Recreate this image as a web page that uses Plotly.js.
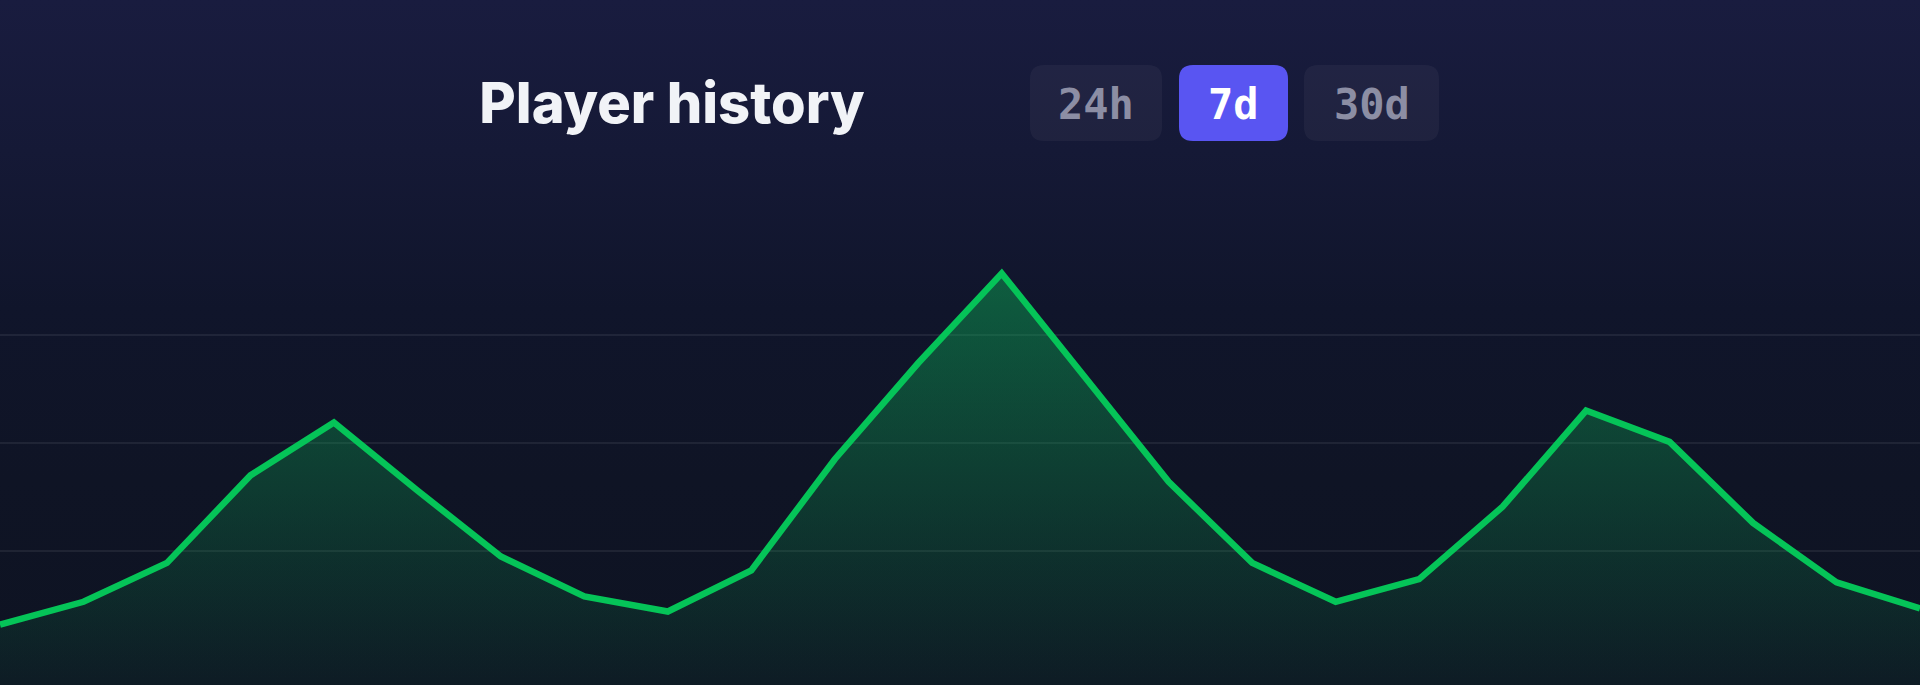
<!DOCTYPE html>
<html>
<head>
<meta charset="utf-8">
<script src="https://cdn.plot.ly/plotly-3.0.1.min.js"></script>
<style>
  html, body { margin: 0; padding: 0; overflow: hidden; }
  body {
    width: 1920px; height: 685px;
    background: linear-gradient(to bottom, #191c3f 0%, #151936 22%, #10152b 45%, #0f1425 70%, #0e1322 100%);
  }
  #myDiv { width: 1920px; height: 685px; }
</style>
</head>
<body>
<div id="myDiv"></div>
<script>
const W = 1920
const H = 685

// samples across the 7 day window
const sampleIdx = [0, 1, 2, 3, 4, 5, 6, 7, 8, 9, 10, 11, 12, 13, 14, 15, 16, 17, 18, 19, 20, 21, 22, 23]
const players = [132, 153, 189, 270, 319, 256, 195, 158, 144, 182, 285, 374, 457, 360, 264, 189, 153, 174, 241, 330, 301, 226, 171, 147]
const gridVals = [200, 300, 400]

const ranges = ["24h", "7d", "30d"]
const activeRange = "7d"

const green = "#05c458"

// pixel -> paper (margins are 0 so paper == page)
function px(x) { return x / W }
function py(y) { return 1 - y / H }

function roundRect(x0, y0, x1, y1, r) {
  const rx = r / W, ry = r / H
  const a = px(x0), b = px(x1), t = py(y0), u = py(y1)
  return "M" + (a + rx) + "," + t +
    " L" + (b - rx) + "," + t +
    " Q" + b + "," + t + " " + b + "," + (t - ry) +
    " L" + b + "," + (u + ry) +
    " Q" + b + "," + u + " " + (b - rx) + "," + u +
    " L" + (a + rx) + "," + u +
    " Q" + a + "," + u + " " + a + "," + (u + ry) +
    " L" + a + "," + (t - ry) +
    " Q" + a + "," + t + " " + (a + rx) + "," + t + " Z"
}

const btnBoxes = [[1030, 1162], [1179, 1288], [1304, 1439]]
const btnTop = 65, btnBottom = 141

let shapes = []
let annotations = []
ranges.forEach((r, i) => {
  const active = r == activeRange
  shapes.push({
    type: "path",
    xref: "paper", yref: "paper",
    path: roundRect(btnBoxes[i][0], btnTop, btnBoxes[i][1], btnBottom, 14),
    fillcolor: active ? "#5955f2" : "rgba(255,255,255,0.045)",
    line: { width: 0 },
    layer: "above",
  })
  annotations.push({
    xref: "paper", yref: "paper",
    x: px((btnBoxes[i][0] + btnBoxes[i][1]) / 2),
    y: py((btnTop + btnBottom) / 2 + 1),
    xanchor: "center", yanchor: "middle",
    text: "<b>" + r + "</b>",
    showarrow: false,
    font: { family: "DejaVu Sans Mono, monospace", size: 42, color: active ? "#ffffff" : "#8c8ea4" },
  })
})

const trace = {
  x: sampleIdx,
  y: players,
  type: "scatter",
  mode: "lines",
  line: { color: green, width: 6.5, shape: "linear" },
  fill: "tozeroy",
  fillgradient: {
    type: "vertical",
    start: 76,
    stop: 460,
    colorscale: [
      [0, "rgba(11,194,90,0.05)"],
      [1, "rgba(11,194,90,0.42)"],
    ],
  },
  hoverinfo: "x+y",
}

const layout = {
  width: W,
  height: H,
  margin: { l: 0, r: 0, t: 0, b: 0 },
  paper_bgcolor: "rgba(0,0,0,0)",
  plot_bgcolor: "rgba(0,0,0,0)",
  showlegend: false,
  title: {
    text: "Player history",
    x: px(672), xanchor: "center",
    y: py(103), yanchor: "middle",
    font: { family: "Inter, Roboto, sans-serif", size: 56, weight: 800, color: "#f1f3f7" },
  },
  xaxis: {
    range: [0, 23],
    showgrid: false, zeroline: false, showticklabels: false, ticks: "",
  },
  yaxis: {
    range: [76, 710],
    tickvals: gridVals,
    showticklabels: false,
    ticks: "",
    zeroline: false,
    gridcolor: "rgba(255,255,255,0.07)",
    gridwidth: 1.5,
  },
  shapes: shapes,
  annotations: annotations,
}

Plotly.newPlot("myDiv", [trace], layout, { displayModeBar: false, staticPlot: true })
</script>
</body>
</html>
